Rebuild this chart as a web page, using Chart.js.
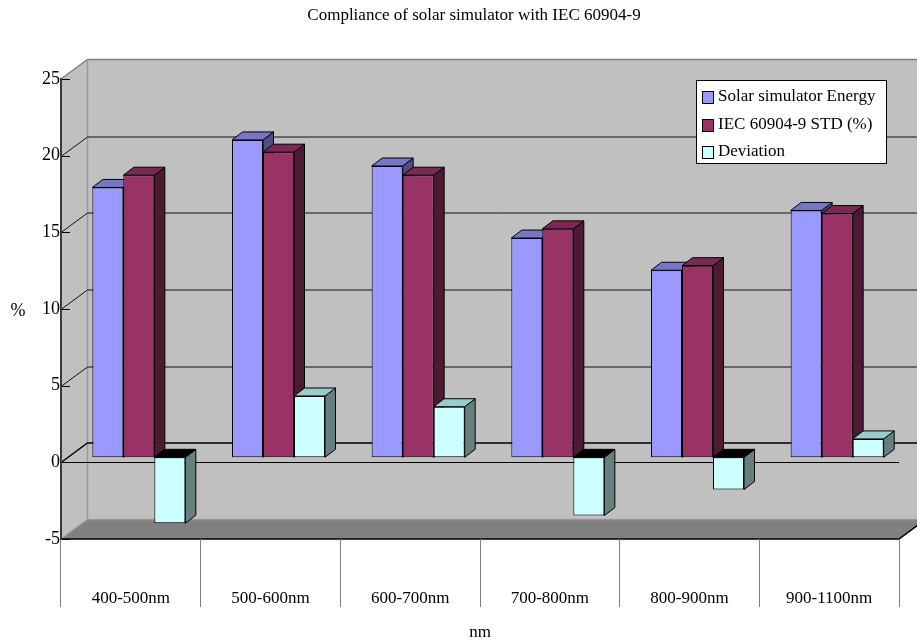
<!DOCTYPE html>
<html>
<head>
<meta charset="utf-8">
<title>Compliance of solar simulator with IEC 60904-9</title>
<script src="https://cdn.jsdelivr.net/npm/chart.js@4/dist/chart.umd.min.js"></script>
<style>
  body { margin: 0; background: #fff; }
  #wrap { width: 917px; height: 643px; }
</style>
</head>
<body>
<div id="wrap"><canvas id="chart" width="917" height="643"></canvas></div>
<script>
// values (%)
const categories = ['400-500nm', '500-600nm', '600-700nm', '700-800nm', '800-900nm', '900-1100nm'];
const solarEnergy = [17.6, 20.7, 19.0, 14.3, 12.2, 16.1];
const iecStd = [18.4, 19.9, 18.4, 14.9, 12.5, 15.9];
const deviation = [-4.3, 4.0, 3.3, -3.8, -2.1, 1.2];
const seriesNames = ['Solar simulator Energy', 'IEC 60904-9 STD (%)', 'Deviation'];
const yTicks = [-5, 0, 5, 10, 15, 20, 25];

const chartTitle = 'Compliance of solar simulator with IEC 60904-9';
const xTitle = 'nm';
const yTitle = '%';

const fontFam = '"Liberation Serif", "Times New Roman", serif';

// face colours: front, top, side
const faces = [
    { front: '#9999ff', top: '#7676c4', side: '#4d4d80' },
    { front: '#993366', top: '#7a2952', side: '#4d1a33' },
    { front: '#ccffff', top: '#99cccc', side: '#668080' }
];

// 3d offsets
const WALL = { dx: 26.5, dy: -19.5 };
const SHIFT = { dx: 8, dy: -5 };
const DEPTH = { dx: 10.5, dy: -8 };

function poly(ctx, pts, fill, stroke) {
    ctx.beginPath();
    ctx.moveTo(pts[0][0], pts[0][1]);
    for (let i = 1; i < pts.length; i++) ctx.lineTo(pts[i][0], pts[i][1]);
    ctx.closePath();
    if (fill) { ctx.fillStyle = fill; ctx.fill(); }
    if (stroke) { ctx.strokeStyle = stroke; ctx.lineWidth = 1; ctx.stroke(); }
}

function line(ctx, pts, color, w) {
    ctx.beginPath();
    ctx.moveTo(pts[0][0], pts[0][1]);
    for (let i = 1; i < pts.length; i++) ctx.lineTo(pts[i][0], pts[i][1]);
    ctx.strokeStyle = color;
    ctx.lineWidth = w || 1;
    ctx.stroke();
}

const box3d = {
    id: 'box3d',
    beforeDraw(chart) {
        const ctx = chart.ctx;
        const a = chart.chartArea;
        const y = chart.scales.y;
        const W = chart.width;
        const yTop = y.getPixelForValue(25);
        const yBot = y.getPixelForValue(-5);
        const bx = a.left + WALL.dx;

        ctx.save();
        ctx.fillStyle = '#fff';
        ctx.fillRect(0, 0, W, chart.height);

        // back wall, side wall, floor
        ctx.fillStyle = '#c0c0c0';
        ctx.fillRect(bx, yTop + WALL.dy, W, yBot - yTop);
        poly(ctx, [[a.left, yTop], [bx, yTop + WALL.dy], [bx, yBot + WALL.dy], [a.left, yBot]], '#c0c0c0');
        poly(ctx, [[a.left, yBot], [a.right, yBot], [a.right + WALL.dx, yBot + WALL.dy], [bx, yBot + WALL.dy]], '#808080');

        line(ctx, [[a.left, yTop], [bx, yTop + WALL.dy], [W, yTop + WALL.dy]], '#808080', 1.5);
        line(ctx, [[bx, yTop + WALL.dy], [bx, yBot + WALL.dy]], '#999999', 1.5);
        line(ctx, [[a.left, yBot], [bx, yBot + WALL.dy], [W, yBot + WALL.dy]], '#9a9a9a', 1.5);

        // gridlines on side and back wall
        yTicks.forEach(v => {
            const py = Math.round(y.getPixelForValue(v)) + 0.5;
            if (v > -5 && v < 25) {
                line(ctx, [[a.left, py], [bx, py + WALL.dy], [W, py + WALL.dy]], v === 0 ? '#000' : '#111', v === 0 ? 1.5 : 1);
            }
            line(ctx, [[a.left, py], [a.left + 9, py]], '#000', 1);
        });

        // front zero line
        const p0 = Math.round(y.getPixelForValue(0)) + 0.5;
        line(ctx, [[a.left, p0], [a.right, p0]], '#000', 1);

        // floor front edge
        line(ctx, [[a.left, yBot], [a.right, yBot], [a.right + WALL.dx, yBot + WALL.dy]], '#000', 1.5);
        ctx.restore();
    },
    beforeDatasetsDraw(chart) {
        const ctx = chart.ctx;
        ctx.save();
        ctx.translate(SHIFT.dx, SHIFT.dy);
        ctx.lineJoin = 'round';
        const n = chart.data.labels.length;
        for (let j = 0; j < n; j++) {
            chart.data.datasets.forEach((ds, i) => {
                const bar = chart.getDatasetMeta(i).data[j];
                const f = faces[i];
                const left = bar.x - bar.width / 2;
                const right = bar.x + bar.width / 2;
                const top = Math.min(bar.y, bar.base);
                const bottom = Math.max(bar.y, bar.base);
                const neg = bar.y > bar.base;
                poly(ctx, [[right, top], [right + DEPTH.dx, top + DEPTH.dy], [right + DEPTH.dx, bottom + DEPTH.dy], [right, bottom]], f.side, '#000');
                poly(ctx, [[left, top], [right, top], [right + DEPTH.dx, top + DEPTH.dy], [left + DEPTH.dx, top + DEPTH.dy]], neg ? '#000' : f.top, '#000');
            });
        }
    },
    afterDatasetsDraw(chart) {
        chart.ctx.restore();
    },
    afterDraw(chart) {
        const ctx = chart.ctx;
        ctx.save();
        ctx.fillStyle = '#000';
        ctx.font = '17px ' + fontFam;
        ctx.textBaseline = 'middle';
        ctx.textAlign = 'center';
        ctx.fillText(chartTitle, 474, 16);
        ctx.fillText(xTitle, 480, 633);
        ctx.font = '18px ' + fontFam;
        ctx.fillText(yTitle, 18, 311);

        // legend box
        ctx.font = '17px ' + fontFam;
        ctx.fillStyle = '#fff';
        ctx.fillRect(696.5, 80.5, 190, 83);
        ctx.strokeStyle = '#000';
        ctx.lineWidth = 1;
        ctx.strokeRect(696.5, 80.5, 190, 83);
        ctx.textAlign = 'left';
        chart.data.datasets.forEach((ds, i) => {
            const cy = 97 + i * 27.5;
            ctx.fillStyle = ds.backgroundColor;
            ctx.fillRect(702.5, Math.round(cy - 6) + 0.5, 11, 12);
            ctx.strokeStyle = '#000';
            ctx.strokeRect(702.5, Math.round(cy - 6) + 0.5, 11, 12);
            ctx.fillStyle = '#000';
            ctx.fillText(ds.label, 718, cy);
        });
        ctx.restore();
    }
};

const allSeries = [solarEnergy, iecStd, deviation];

new Chart(document.getElementById('chart'), {
    type: 'bar',
    data: {
        labels: categories,
        datasets: allSeries.map((vals, i) => ({
            label: seriesNames[i],
            data: vals,
            backgroundColor: faces[i].front,
            borderColor: '#000',
            borderWidth: 1,
            borderSkipped: false,
            inflateAmount: 0,
            clip: false,
            categoryPercentage: 0.666,
            barPercentage: 1
        }))
    },
    options: {
        responsive: false,
        animation: false,
        events: [],
        layout: { padding: { top: 79, right: 18, left: 0, bottom: 0 } },
        plugins: {
            legend: { display: false },
            title: { display: false },
            tooltip: { enabled: false }
        },
        scales: {
            x: {
                offset: true,
                afterFit(scale) { scale.height = 104; },
                border: { display: false },
                grid: {
                    offset: true,
                    drawOnChartArea: false,
                    drawTicks: true,
                    tickLength: 68,
                    color: '#808080',
                    lineWidth: 1
                },
                ticks: {
                    color: '#000',
                    font: { family: fontFam, size: 17 },
                    padding: -19,
                    maxRotation: 0
                }
            },
            y: {
                min: -5,
                max: 25,
                afterFit(scale) { scale.width = 61; },
                afterBuildTicks(scale) { scale.ticks = yTicks.map(v => ({ value: v })); },
                border: { display: true, color: '#3a3a3a', width: 2 },
                grid: { display: false, drawTicks: false },
                ticks: {
                    color: '#000',
                    font: { family: fontFam, size: 18 },
                    padding: 1
                }
            }
        }
    },
    plugins: [box3d]
});
</script>
</body>
</html>
